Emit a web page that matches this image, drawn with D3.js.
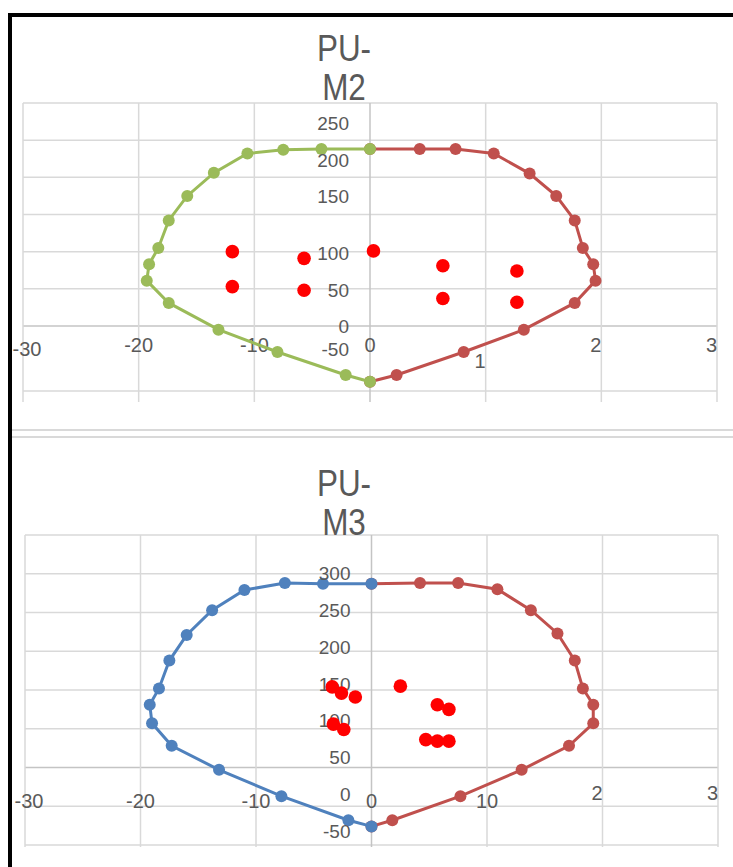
<!DOCTYPE html>
<html>
<head>
<meta charset="utf-8">
<script src="https://cdn.jsdelivr.net/npm/d3@7"></script>
<style>
  body { margin: 0; background: #fff; }
  svg { display: block; font-family: "Liberation Sans", Arial, sans-serif; }
</style>
</head>
<body>
<div id="chart"></div>
<script>
// Two interaction diagrams (PU-M2, PU-M3) from an Excel sheet screenshot

// ---- data ----
const xTicks = [-30, -20, -10, 0, 10, 20, 30];
const m2XLabels = ["-30", "-20", "-10", "0", "1", "2", "3"];
const m3XLabels = ["-30", "-20", "-10", "0", "10", "2", "3"];
const m2YTicks = [250, 200, 150, 100, 50, 0, -50];
const m3YTicks = [300, 250, 200, 150, 100, 50, 0, -50];
const gridValues = [300, 250, 200, 150, 100, 50, 0, -50, -100];

// PU-M2
const m2LeftX  = [0, -4.2, -7.5, -10.6, -13.5, -15.8, -17.4, -18.3, -19.1, -19.3, -17.4, -13.1, -8.0, -2.1, 0];
const m2LeftY  = [238, 238, 237, 232, 206, 175, 142, 105, 83, 61, 31, -5, -35, -66, -75];
const m2RightX = [0, 4.3, 7.4, 10.7, 13.8, 16.1, 17.7, 18.4, 19.3, 19.5, 17.7, 13.3, 8.1, 2.3, 0];
const m2RightY = [238, 238, 238, 232, 205, 175, 142, 105, 83, 61, 31, -5, -35, -66, -75];
const m2LoadX  = [-11.9, -11.9, -5.7, -5.7, 0.3, 6.3, 6.3, 12.7, 12.7];
const m2LoadY  = [100, 53, 91, 48, 101, 81, 37, 74, 32];

// PU-M3
const m3LeftX  = [0, -4.2, -7.5, -11.0, -13.8, -16.0, -17.5, -18.4, -19.2, -19.0, -17.3, -13.2, -7.8, -2.0, 0];
const m3LeftY  = [237, 237, 238, 229, 203, 171, 138, 102, 81, 57, 28, -3, -37, -68, -76];
const m3RightX = [0, 4.2, 7.5, 10.9, 13.8, 16.1, 17.6, 18.3, 19.2, 19.2, 17.1, 13.0, 7.7, 1.8, 0];
const m3RightY = [237, 238, 238, 230, 203, 173, 138, 102, 81, 57, 28, -3, -37, -68, -76];
const m3LoadX  = [-3.4, -2.6, -1.4, -3.3, -2.4, 2.5, 5.7, 6.7, 4.7, 5.7, 6.7];
const m3LoadY  = [104, 96, 91, 56, 49, 105, 81, 75, 36, 34, 34];

const width = 733, height = 867;
const textColor = "#595959";
const gridColor = "#d9d9d9";
const axisColor = "#c4c4c4";

const svg = d3.select("#chart")
  .append("svg")
    .attr("width", width)
    .attr("height", height)
    .attr("viewBox", [0, 0, width, height]);

svg.append("rect").attr("width", width).attr("height", height).attr("fill", "#fff");

const zip = (xs, ys) => xs.map((x, i) => [x, ys[i]]);

function drawChart(cfg) {
  const g = svg.append("g");
  const x = d3.scaleLinear().domain([-30, 30]).range(cfg.xRange);
  const y = d3.scaleLinear().domain([-100, 300]).range(cfg.yRange);
  // the tick labels in the screenshot do not sit on their gridlines
  const yLab = d3.scaleLinear().domain(cfg.labDomain).range(cfg.labRange);

  // horizontal gridlines
  g.selectAll(".hgrid")
    .data(cfg.hGrid)
    .enter()
    .append("line")
      .attr("x1", x(-30)).attr("x2", x(30))
      .attr("y1", d => y(d)).attr("y2", d => y(d))
      .attr("stroke", d => d === 0 ? axisColor : gridColor)
      .attr("stroke-width", 1.5);

  if (cfg.bottomLine) {
    g.append("line")
      .attr("x1", x(-30)).attr("x2", x(30))
      .attr("y1", cfg.bottomLine).attr("y2", cfg.bottomLine)
      .attr("stroke", gridColor).attr("stroke-width", 1.5);
  }

  // vertical gridlines
  g.selectAll(".vgrid")
    .data(xTicks)
    .enter()
    .append("line")
      .attr("x1", d => x(d)).attr("x2", d => x(d))
      .attr("y1", y(300)).attr("y2", cfg.vBottom)
      .attr("stroke", d => d === 0 ? axisColor : gridColor)
      .attr("stroke-width", 1.5);

  // x tick labels (the short ones are cut off at their gridline)
  const cut = (d, i) => cfg.xLabels[i].length === 1 && d > 0;
  g.selectAll(".xlab")
    .data(xTicks)
    .enter()
    .append("text")
      .attr("x", (d, i) => d === -30 ? x(d) + 4 : x(d))
      .attr("y", d => cfg.xLabelY + (cfg.xLabelDy[d] || 0))
      .attr("text-anchor", (d, i) => cut(d, i) ? "end" : "middle")
      .attr("dominant-baseline", "middle")
      .attr("font-size", "20px")
      .attr("fill", textColor)
      .text((d, i) => cfg.xLabels[i]);

  // curves: right side first, left side drawn on top
  const line = d3.line().x(d => x(d[0])).y(d => y(d[1]));
  [[cfg.right, "#c0504d"], [cfg.left, cfg.leftColor]].forEach(([pts, color]) => {
    g.append("path")
      .datum(pts)
      .attr("d", line)
      .attr("fill", "none")
      .attr("stroke", color)
      .attr("stroke-width", 3);
    g.selectAll(null)
      .data(pts)
      .enter()
      .append("circle")
        .attr("cx", d => x(d[0]))
        .attr("cy", d => y(d[1]))
        .attr("r", 6)
        .attr("fill", color);
  });

  // y tick labels
  g.selectAll(".ylab")
    .data(cfg.yTicks)
    .enter()
    .append("text")
      .attr("x", x(0) - 21)
      .attr("y", d => yLab(d))
      .attr("text-anchor", "end")
      .attr("dominant-baseline", "middle")
      .attr("font-size", "19px")
      .attr("fill", textColor)
      .text(d => d);

  // load points
  g.selectAll(".load")
    .data(cfg.loads)
    .enter()
    .append("circle")
      .attr("cx", d => x(d[0]))
      .attr("cy", d => y(d[1]))
      .attr("r", 6.8)
      .attr("fill", "#ff0000");

  // title, wrapped over two lines, a little condensed like the screenshot
  const t = g.append("text")
    .attr("transform", `translate(${cfg.titleX},${cfg.titleY}) scale(0.85,1)`)
    .attr("text-anchor", "middle")
    .attr("font-size", "37px")
    .attr("fill", textColor);
  t.append("tspan").attr("x", 0).text(cfg.title[0]);
  t.append("tspan").attr("x", 0).attr("dy", 39).text(cfg.title[1]);
}

drawChart({
  title: ["PU-", "M2"], titleX: 344, titleY: 61,
  xRange: [23, 717], yRange: [400.3, 103],
  hGrid: [300, 250, 200, 150, 100, 50, 0], bottomLine: 391, vBottom: 402,
  labDomain: [-50, 0, 100, 150, 250], labRange: [351, 328, 255, 198, 125],
  yTicks: m2YTicks, xLabels: m2XLabels, xLabelY: 347, xLabelDy: {10: 16, [-30]: 4},
  left: zip(m2LeftX, m2LeftY), right: zip(m2RightX, m2RightY), leftColor: "#9bbb59",
  loads: zip(m2LoadX, m2LoadY)
});

drawChart({
  title: ["PU-", "M3"], titleX: 344, titleY: 496,
  xRange: [25, 718], yRange: [845, 535],
  hGrid: gridValues, bottomLine: null, vBottom: 847,
  labDomain: [-50, 300], labRange: [833, 575],
  yTicks: m3YTicks, xLabels: m3XLabels, xLabelY: 803, xLabelDy: {20: -8, 30: -8},
  left: zip(m3LeftX, m3LeftY), right: zip(m3RightX, m3RightY), leftColor: "#4f81bd",
  loads: zip(m3LoadX, m3LoadY)
});

// separator between the two chart objects
[430, 437].forEach(yy => {
  svg.append("line")
    .attr("x1", 12).attr("x2", width)
    .attr("y1", yy).attr("y2", yy)
    .attr("stroke", gridColor).attr("stroke-width", 2);
});

// black frame on the top and left
svg.append("line").attr("x1", 8).attr("x2", width).attr("y1", 15).attr("y2", 15)
  .attr("stroke", "#000").attr("stroke-width", 4);
svg.append("line").attr("x1", 10).attr("x2", 10).attr("y1", 13).attr("y2", height)
  .attr("stroke", "#000").attr("stroke-width", 4);
</script>
</body>
</html>
